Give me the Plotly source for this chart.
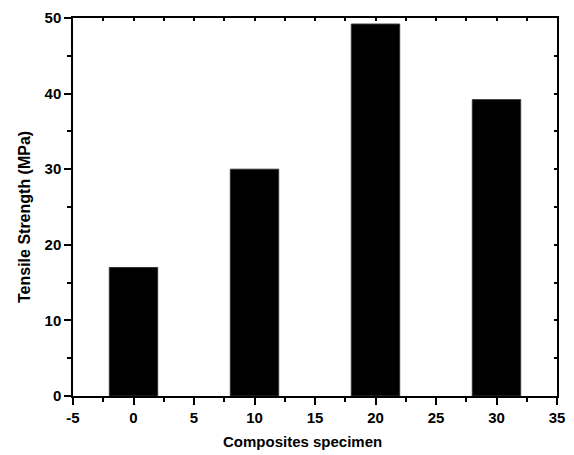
import plotly.graph_objects as go

specimen = [0, 10, 20, 30]
strength = [17, 30, 49.2, 39.2]
x_ticks = [-5, 0, 5, 10, 15, 20, 25, 30, 35]
y_ticks = [0, 10, 20, 30, 40, 50]

font = "Liberation Sans"

fig = go.Figure()
fig.add_trace(go.Bar(x=specimen, y=strength, width=4,
                     marker=dict(color="black", line=dict(color="#333", width=1)),
                     showlegend=False))
fig.add_trace(go.Scatter(x=[], y=[], xaxis="x2", yaxis="y2", showlegend=False))

axcommon = dict(showgrid=False, zeroline=False, showline=True, linecolor="black",
                linewidth=1.5, tickcolor="black", tickwidth=1.5, automargin=False)

tickfont = dict(family=font, size=15, weight="bold", color="black")

fig.update_layout(
    width=574, height=455,
    margin=dict(l=73, r=17, t=18, b=59),
    plot_bgcolor="white", paper_bgcolor="white",
    font=dict(family=font, size=15, color="black"),
    xaxis=dict(range=[-5, 35], tickvals=x_ticks, ticktext=[str(v) for v in x_ticks],
               ticks="outside", ticklen=7,
               minor=dict(dtick=2.5, tick0=-5, ticks="outside", ticklen=4, tickcolor="black", tickwidth=1.5),
               tickfont=tickfont,
               **axcommon),
    yaxis=dict(range=[0, 50], tickvals=y_ticks, ticktext=[str(v) for v in y_ticks],
               ticks="outside", ticklen=7,
               minor=dict(dtick=5, ticks="outside", ticklen=4, tickcolor="black", tickwidth=1.5),
               tickfont=tickfont,
               **axcommon),
    xaxis2=dict(range=[-5, 35], overlaying="x", side="top", dtick=2.5, tick0=-5,
                ticks="inside", ticklen=3, showticklabels=False, anchor="y2", **axcommon),
    yaxis2=dict(range=[0, 50], overlaying="y", side="right", dtick=5,
                ticks="inside", ticklen=3, showticklabels=False, anchor="x2", **axcommon),
    annotations=[
        dict(text="Composites specimen", xref="paper", yref="paper",
             x=(302 - 73) / (574 - 90), y=-(441 - 396) / (455 - 77), xanchor="center", yanchor="middle",
             showarrow=False, font=dict(family=font, size=15, weight="bold")),
        dict(text="Tensile Strength (MPa)", xref="paper", yref="paper",
             x=-(73 - 24) / (574 - 90), y=(396 - 217) / (455 - 77), xanchor="center", yanchor="middle",
             textangle=-90, showarrow=False, font=dict(family=font, size=16, weight="bold")),
    ],
)

fig.write_html("out.html")
